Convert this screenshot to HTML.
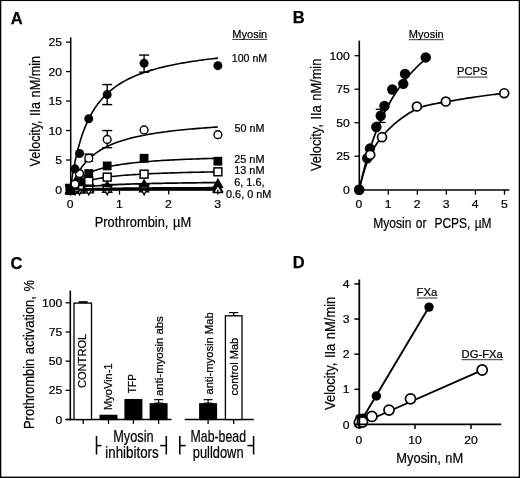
<!DOCTYPE html>
<html><head><meta charset="utf-8"><title>Figure</title>
<style>
html,body{margin:0;padding:0;background:#fff;}
body{width:520px;height:478px;overflow:hidden;position:relative;}
svg{position:absolute;left:0;top:0;display:block;}
svg text{font-family:"Liberation Sans",sans-serif;fill:#000;stroke:#000;stroke-width:0.22px;}
svg text.b{font-weight:bold;stroke-width:0.25px;}
</style></head><body>
<svg width="520" height="478" viewBox="0 0 520 478">
<rect x="0" y="0" width="520" height="478" fill="#fff"/>
<rect x="0" y="0" width="520" height="1.05" fill="#000"/><rect x="0" y="476.6" width="520" height="1.4" fill="#000"/><rect x="0" y="0" width="1.3" height="478" fill="#000"/><rect x="518.7" y="0" width="1.3" height="478" fill="#000"/>
<text transform="translate(10.80,23.60)" font-size="16.5" class="b">A</text>
<text transform="translate(62.00,193.50) scale(1.06,1)" font-size="11.5" text-anchor="end">0</text>
<text transform="translate(62.00,164.02) scale(1.06,1)" font-size="11.5" text-anchor="end">5</text>
<text transform="translate(62.00,134.54) scale(1.06,1)" font-size="11.5" text-anchor="end">10</text>
<text transform="translate(62.00,105.06) scale(1.06,1)" font-size="11.5" text-anchor="end">15</text>
<text transform="translate(62.00,75.58) scale(1.06,1)" font-size="11.5" text-anchor="end">20</text>
<text transform="translate(62.00,46.10) scale(1.06,1)" font-size="11.5" text-anchor="end">25</text>
<text transform="translate(70.10,207.70) scale(1.06,1)" font-size="11.5" text-anchor="middle">0</text>
<text transform="translate(119.30,207.70) scale(1.06,1)" font-size="11.5" text-anchor="middle">1</text>
<text transform="translate(168.50,207.70) scale(1.06,1)" font-size="11.5" text-anchor="middle">2</text>
<text transform="translate(217.70,207.70) scale(1.06,1)" font-size="11.5" text-anchor="middle">3</text>
<text transform="translate(39.80,166.40) rotate(-90) scale(0.8244,1)" font-size="15.3" style="word-spacing:1.2px">Velocity, IIa nM/min</text>
<text transform="translate(94.70,227.20) scale(0.8429,1)" font-size="15.3" style="word-spacing:1.2px">Prothrombin, µM</text>
<polyline points="70.30,189.50 72.76,188.93 75.22,188.43 77.68,187.99 80.14,187.60 82.60,187.25 85.06,186.94 87.52,186.65 89.98,186.39 92.44,186.15 94.90,185.94 97.36,185.74 99.82,185.55 102.28,185.38 104.74,185.23 107.20,185.08 109.66,184.94 112.12,184.81 114.58,184.69 117.04,184.58 119.50,184.47 121.96,184.37 124.42,184.28 126.88,184.19 129.34,184.10 131.80,184.02 134.26,183.94 136.72,183.87 139.18,183.80 141.64,183.73 144.10,183.67 146.56,183.61 149.02,183.55 151.48,183.50 153.94,183.44 156.40,183.39 158.86,183.34 161.32,183.30 163.78,183.25 166.24,183.21 168.70,183.17 171.16,183.13 173.62,183.09 176.08,183.05 178.54,183.01 181.00,182.98 183.46,182.95 185.92,182.91 188.38,182.88 190.84,182.85 193.30,182.82 195.76,182.79 198.22,182.76 200.68,182.74 203.14,182.71 205.60,182.69 208.06,182.66 210.52,182.64 212.98,182.61 215.44,182.59 217.90,182.57" fill="none" stroke="#000" stroke-width="1.7" stroke-linejoin="round"/>
<polyline points="70.30,189.50 72.76,187.62 75.22,186.06 77.68,184.74 80.14,183.60 82.60,182.62 85.06,181.76 87.52,181.00 89.98,180.33 92.44,179.73 94.90,179.18 97.36,178.69 99.82,178.24 102.28,177.84 104.74,177.46 107.20,177.12 109.66,176.80 112.12,176.51 114.58,176.23 117.04,175.98 119.50,175.74 121.96,175.52 124.42,175.31 126.88,175.12 129.34,174.93 131.80,174.76 134.26,174.60 136.72,174.44 139.18,174.29 141.64,174.16 144.10,174.02 146.56,173.90 149.02,173.78 151.48,173.66 153.94,173.55 156.40,173.45 158.86,173.35 161.32,173.25 163.78,173.16 166.24,173.08 168.70,172.99 171.16,172.91 173.62,172.83 176.08,172.76 178.54,172.69 181.00,172.62 183.46,172.55 185.92,172.48 188.38,172.42 190.84,172.36 193.30,172.30 195.76,172.25 198.22,172.19 200.68,172.14 203.14,172.09 205.60,172.04 208.06,171.99 210.52,171.94 212.98,171.90 215.44,171.85 217.90,171.81" fill="none" stroke="#000" stroke-width="1.6" stroke-linejoin="round"/>
<polyline points="70.30,189.50 72.76,185.90 75.22,182.96 77.68,180.51 80.14,178.43 82.60,176.66 85.06,175.11 87.52,173.77 89.98,172.58 92.44,171.52 94.90,170.57 97.36,169.72 99.82,168.95 102.28,168.25 104.74,167.61 107.20,167.02 109.66,166.48 112.12,165.98 114.58,165.52 117.04,165.09 119.50,164.70 121.96,164.32 124.42,163.98 126.88,163.65 129.34,163.34 131.80,163.05 134.26,162.78 136.72,162.53 139.18,162.28 141.64,162.05 144.10,161.83 146.56,161.63 149.02,161.43 151.48,161.24 153.94,161.06 156.40,160.89 158.86,160.73 161.32,160.57 163.78,160.42 166.24,160.28 168.70,160.14 171.16,160.01 173.62,159.88 176.08,159.76 178.54,159.64 181.00,159.53 183.46,159.42 185.92,159.31 188.38,159.21 190.84,159.12 193.30,159.02 195.76,158.93 198.22,158.84 200.68,158.76 203.14,158.67 205.60,158.59 208.06,158.51 210.52,158.44 212.98,158.37 215.44,158.29 217.90,158.23" fill="none" stroke="#000" stroke-width="1.6" stroke-linejoin="round"/>
<polyline points="70.30,189.50 72.76,183.18 75.22,177.86 77.68,173.32 80.14,169.40 82.60,165.98 85.06,162.97 87.52,160.30 89.98,157.92 92.44,155.78 94.90,153.85 97.36,152.10 99.82,150.50 102.28,149.04 104.74,147.69 107.20,146.45 109.66,145.31 112.12,144.24 114.58,143.25 117.04,142.33 119.50,141.47 121.96,140.66 124.42,139.90 126.88,139.19 129.34,138.52 131.80,137.89 134.26,137.29 136.72,136.72 139.18,136.18 141.64,135.67 144.10,135.18 146.56,134.72 149.02,134.28 151.48,133.86 153.94,133.46 156.40,133.07 158.86,132.70 161.32,132.35 163.78,132.01 166.24,131.69 168.70,131.38 171.16,131.08 173.62,130.79 176.08,130.51 178.54,130.25 181.00,129.99 183.46,129.74 185.92,129.50 188.38,129.27 190.84,129.05 193.30,128.83 195.76,128.62 198.22,128.42 200.68,128.22 203.14,128.03 205.60,127.85 208.06,127.67 210.52,127.49 212.98,127.32 215.44,127.16 217.90,127.00" fill="none" stroke="#000" stroke-width="1.6" stroke-linejoin="round"/>
<polyline points="70.30,189.50 72.76,173.57 75.22,160.70 77.68,150.09 80.14,141.19 82.60,133.62 85.06,127.10 87.52,121.43 89.98,116.45 92.44,112.04 94.90,108.11 97.36,104.59 99.82,101.41 102.28,98.53 104.74,95.90 107.20,93.50 109.66,91.30 112.12,89.27 114.58,87.39 117.04,85.65 119.50,84.04 121.96,82.53 124.42,81.12 126.88,79.80 129.34,78.57 131.80,77.41 134.26,76.31 136.72,75.28 139.18,74.30 141.64,73.38 144.10,72.50 146.56,71.67 149.02,70.88 151.48,70.13 153.94,69.41 156.40,68.73 158.86,68.07 161.32,67.45 163.78,66.85 166.24,66.28 168.70,65.73 171.16,65.21 173.62,64.70 176.08,64.22 178.54,63.75 181.00,63.30 183.46,62.87 185.92,62.45 188.38,62.05 190.84,61.66 193.30,61.28 195.76,60.92 198.22,60.57 200.68,60.23 203.14,59.90 205.60,59.58 208.06,59.28 210.52,58.98 212.98,58.69 215.44,58.41 217.90,58.13" fill="none" stroke="#000" stroke-width="1.6" stroke-linejoin="round"/>
<polygon points="70.30,185.40 65.68,193.60 74.92,193.60" fill="#000" stroke="#000" stroke-width="1.3"/>
<polygon points="74.92,184.81 70.30,193.02 79.54,193.02" fill="#000" stroke="#000" stroke-width="1.3"/>
<polygon points="79.53,184.22 74.91,192.43 84.15,192.43" fill="#000" stroke="#000" stroke-width="1.3"/>
<polygon points="88.75,183.04 84.13,191.25 93.37,191.25" fill="#000" stroke="#000" stroke-width="1.3"/>
<polygon points="107.20,181.27 102.58,189.48 111.82,189.48" fill="#000" stroke="#000" stroke-width="1.3"/>
<polygon points="144.10,179.79 139.48,188.00 148.72,188.00" fill="#000" stroke="#000" stroke-width="1.3"/>
<polygon points="217.90,179.20 213.28,187.41 222.52,187.41" fill="#000" stroke="#000" stroke-width="1.3"/>
<polygon points="70.30,185.46 65.74,193.54 74.86,193.54" fill="#fff" stroke="#000" stroke-width="1.4"/>
<polygon points="74.92,185.17 70.36,193.25 79.48,193.25" fill="#fff" stroke="#000" stroke-width="1.4"/>
<polygon points="79.53,184.99 74.97,193.07 84.09,193.07" fill="#fff" stroke="#000" stroke-width="1.4"/>
<polygon points="88.75,184.75 84.19,192.83 93.31,192.83" fill="#fff" stroke="#000" stroke-width="1.4"/>
<polygon points="107.20,184.28 102.64,192.36 111.76,192.36" fill="#fff" stroke="#000" stroke-width="1.4"/>
<polygon points="144.10,183.81 139.54,191.89 148.66,191.89" fill="#fff" stroke="#000" stroke-width="1.4"/>
<polygon points="217.90,183.51 213.34,191.59 222.46,191.59" fill="#fff" stroke="#000" stroke-width="1.4"/>
<polygon points="70.30,192.72 65.68,184.51 74.92,184.51" fill="#000" stroke="#000" stroke-width="1.3"/>
<polygon points="74.92,192.72 70.30,184.51 79.54,184.51" fill="#000" stroke="#000" stroke-width="1.3"/>
<polygon points="79.53,192.72 74.91,184.51 84.15,184.51" fill="#000" stroke="#000" stroke-width="1.3"/>
<polygon points="88.75,192.72 84.13,184.51 93.37,184.51" fill="#000" stroke="#000" stroke-width="1.3"/>
<polygon points="107.20,192.72 102.58,184.51 111.82,184.51" fill="#000" stroke="#000" stroke-width="1.3"/>
<polygon points="144.10,192.72 139.48,184.51 148.72,184.51" fill="#000" stroke="#000" stroke-width="1.3"/>
<polygon points="70.30,194.74 65.74,186.26 74.86,186.26" fill="#fff" stroke="#000" stroke-width="1.4"/>
<polygon points="74.92,194.74 70.36,186.26 79.48,186.26" fill="#fff" stroke="#000" stroke-width="1.4"/>
<polygon points="79.53,194.74 74.97,186.26 84.09,186.26" fill="#fff" stroke="#000" stroke-width="1.4"/>
<polygon points="88.75,194.74 84.19,186.26 93.31,186.26" fill="#fff" stroke="#000" stroke-width="1.4"/>
<polygon points="107.20,194.74 102.64,186.26 111.76,186.26" fill="#fff" stroke="#000" stroke-width="1.4"/>
<polygon points="144.10,194.74 139.54,186.26 148.66,186.26" fill="#fff" stroke="#000" stroke-width="1.4"/>
<polyline points="70.30,189.50 72.76,189.35 75.22,189.22 77.68,189.11 80.14,189.00 82.60,188.91 85.06,188.82 87.52,188.75 89.98,188.67 92.44,188.61 94.90,188.55 97.36,188.49 99.82,188.44 102.28,188.39 104.74,188.34 107.20,188.30 109.66,188.26 112.12,188.22 114.58,188.19 117.04,188.16 119.50,188.12 121.96,188.09 124.42,188.07 126.88,188.04 129.34,188.01 131.80,187.99 134.26,187.97 136.72,187.95 139.18,187.92 141.64,187.90 144.10,187.89 146.56,187.87 149.02,187.85 151.48,187.83 153.94,187.82 156.40,187.80 158.86,187.79 161.32,187.77 163.78,187.76 166.24,187.74 168.70,187.73 171.16,187.72 173.62,187.71 176.08,187.70 178.54,187.68 181.00,187.67 183.46,187.66 185.92,187.65 188.38,187.64 190.84,187.63 193.30,187.62 195.76,187.62 198.22,187.61 200.68,187.60 203.14,187.59 205.60,187.58 208.06,187.57 210.52,187.57 212.98,187.56 215.44,187.55 217.90,187.55" fill="none" stroke="#000" stroke-width="1.4" stroke-linejoin="round"/>
<polyline points="70.30,189.50 72.76,189.37 75.22,189.26 77.68,189.19 80.14,189.12 82.60,189.07 85.06,189.03 87.52,188.99 89.98,188.96 92.44,188.93 94.90,188.91 97.36,188.89 99.82,188.87 102.28,188.85 104.74,188.84 107.20,188.83 109.66,188.81 112.12,188.80 114.58,188.79 117.04,188.78 119.50,188.77 121.96,188.77 124.42,188.76 126.88,188.75 129.34,188.75 131.80,188.74 134.26,188.73 136.72,188.73 139.18,188.72 141.64,188.72 144.10,188.71 146.56,188.71 149.02,188.71 151.48,188.70 153.94,188.70 156.40,188.69 158.86,188.69 161.32,188.69 163.78,188.69 166.24,188.68 168.70,188.68 171.16,188.68 173.62,188.67 176.08,188.67 178.54,188.67 181.00,188.67 183.46,188.67 185.92,188.66 188.38,188.66 190.84,188.66 193.30,188.66 195.76,188.66 198.22,188.65 200.68,188.65 203.14,188.65 205.60,188.65 208.06,188.65 210.52,188.65 212.98,188.65 215.44,188.64 217.90,188.64" fill="none" stroke="#000" stroke-width="1.4" stroke-linejoin="round"/>
<polyline points="70.30,190.09 217.90,190.09" fill="none" stroke="#000" stroke-width="1.4" stroke-linejoin="round"/>
<line x1="66.00" y1="189.50" x2="218.60" y2="189.50" stroke="#000" stroke-width="1.5"/>
<polygon points="217.90,185.12 213.60,192.47 222.20,192.47" fill="#fff" stroke="#000" stroke-width="1.5"/>
<rect x="66.35" y="186.14" width="7.9" height="7.9" fill="#fff" stroke="#000" stroke-width="1.5"/>
<rect x="70.97" y="183.78" width="7.9" height="7.9" fill="#fff" stroke="#000" stroke-width="1.5"/>
<rect x="75.58" y="181.42" width="7.9" height="7.9" fill="#fff" stroke="#000" stroke-width="1.5"/>
<rect x="84.80" y="177.30" width="7.9" height="7.9" fill="#fff" stroke="#000" stroke-width="1.5"/>
<rect x="103.25" y="173.17" width="7.9" height="7.9" fill="#fff" stroke="#000" stroke-width="1.5"/>
<rect x="140.15" y="170.22" width="7.9" height="7.9" fill="#fff" stroke="#000" stroke-width="1.5"/>
<rect x="213.95" y="167.86" width="7.9" height="7.9" fill="#fff" stroke="#000" stroke-width="1.5"/>
<rect x="65.90" y="185.69" width="8.8" height="8.8" fill="#000"/>
<rect x="70.52" y="181.56" width="8.8" height="8.8" fill="#000"/>
<rect x="75.12" y="177.44" width="8.8" height="8.8" fill="#000"/>
<rect x="84.35" y="169.18" width="8.8" height="8.8" fill="#000"/>
<rect x="102.80" y="161.52" width="8.8" height="8.8" fill="#000"/>
<rect x="139.70" y="153.85" width="8.8" height="8.8" fill="#000"/>
<rect x="213.50" y="156.80" width="8.8" height="8.8" fill="#000"/>
<line x1="107.20" y1="84.55" x2="107.20" y2="104.60" stroke="#000" stroke-width="1.4"/>
<line x1="102.20" y1="84.55" x2="112.20" y2="84.55" stroke="#000" stroke-width="1.4"/>
<line x1="102.20" y1="104.60" x2="112.20" y2="104.60" stroke="#000" stroke-width="1.4"/>
<line x1="144.10" y1="55.07" x2="144.10" y2="72.17" stroke="#000" stroke-width="1.4"/>
<line x1="139.10" y1="55.07" x2="149.10" y2="55.07" stroke="#000" stroke-width="1.4"/>
<line x1="139.10" y1="72.17" x2="149.10" y2="72.17" stroke="#000" stroke-width="1.4"/>
<line x1="107.20" y1="130.54" x2="107.20" y2="147.64" stroke="#000" stroke-width="1.4"/>
<line x1="102.20" y1="130.54" x2="112.20" y2="130.54" stroke="#000" stroke-width="1.4"/>
<line x1="102.20" y1="147.64" x2="112.20" y2="147.64" stroke="#000" stroke-width="1.4"/>
<line x1="88.75" y1="154.12" x2="88.75" y2="161.20" stroke="#000" stroke-width="1.4"/>
<line x1="84.25" y1="154.12" x2="93.25" y2="154.12" stroke="#000" stroke-width="1.4"/>
<line x1="84.25" y1="161.20" x2="93.25" y2="161.20" stroke="#000" stroke-width="1.4"/>
<circle cx="70.30" cy="190.09" r="3.9" fill="#fff" stroke="#000" stroke-width="1.4"/>
<circle cx="74.92" cy="184.19" r="3.9" fill="#fff" stroke="#000" stroke-width="1.4"/>
<circle cx="79.53" cy="173.58" r="3.9" fill="#fff" stroke="#000" stroke-width="1.4"/>
<circle cx="88.75" cy="158.25" r="3.9" fill="#fff" stroke="#000" stroke-width="1.4"/>
<circle cx="107.20" cy="139.38" r="3.9" fill="#fff" stroke="#000" stroke-width="1.4"/>
<circle cx="144.10" cy="129.95" r="3.9" fill="#fff" stroke="#000" stroke-width="1.4"/>
<circle cx="217.90" cy="134.67" r="3.9" fill="#fff" stroke="#000" stroke-width="1.4"/>
<circle cx="70.30" cy="190.09" r="4.5" fill="#000"/>
<circle cx="74.92" cy="168.86" r="4.5" fill="#000"/>
<circle cx="79.53" cy="153.53" r="4.5" fill="#000"/>
<circle cx="88.75" cy="118.75" r="4.5" fill="#000"/>
<circle cx="107.20" cy="94.57" r="4.5" fill="#000"/>
<circle cx="144.10" cy="63.33" r="4.5" fill="#000"/>
<circle cx="217.90" cy="65.68" r="4.5" fill="#000"/>
<line x1="70.70" y1="37.30" x2="70.70" y2="190.20" stroke="#000" stroke-width="1.5"/>
<line x1="66.00" y1="189.50" x2="70.60" y2="189.50" stroke="#000" stroke-width="1.3"/>
<line x1="66.00" y1="160.02" x2="70.60" y2="160.02" stroke="#000" stroke-width="1.3"/>
<line x1="66.00" y1="130.54" x2="70.60" y2="130.54" stroke="#000" stroke-width="1.3"/>
<line x1="66.00" y1="101.06" x2="70.60" y2="101.06" stroke="#000" stroke-width="1.3"/>
<line x1="66.00" y1="71.58" x2="70.60" y2="71.58" stroke="#000" stroke-width="1.3"/>
<line x1="66.00" y1="42.10" x2="70.60" y2="42.10" stroke="#000" stroke-width="1.3"/>
<line x1="70.30" y1="189.50" x2="70.30" y2="194.60" stroke="#000" stroke-width="1.3"/>
<line x1="119.50" y1="189.50" x2="119.50" y2="194.60" stroke="#000" stroke-width="1.3"/>
<line x1="168.70" y1="189.50" x2="168.70" y2="194.60" stroke="#000" stroke-width="1.3"/>
<line x1="217.90" y1="189.50" x2="217.90" y2="194.60" stroke="#000" stroke-width="1.3"/>
<text transform="translate(232.30,37.70) scale(1.0231,1)" font-size="10.8">Myosin</text>
<line x1="232.30" y1="39.40" x2="267.30" y2="39.40" stroke="#000" stroke-width="0.8"/>
<text transform="translate(231.80,61.70) scale(0.9827,1)" font-size="10.8">100 nM</text>
<text transform="translate(234.60,131.80) scale(0.9961,1)" font-size="10.8">50 nM</text>
<text transform="translate(234.20,162.60) scale(1.0094,1)" font-size="10.8">25 nM</text>
<text transform="translate(234.20,174.10) scale(1.0094,1)" font-size="10.8">13 nM</text>
<text transform="translate(234.20,185.70) scale(1.0093,1)" font-size="10.8">6, 1.6,</text>
<text transform="translate(226.05,197.90) scale(1.0083,1)" font-size="10.8">0.6, 0 nM</text>
<text transform="translate(292.80,23.10)" font-size="16.5" class="b">B</text>
<text transform="translate(349.80,193.70) scale(1.06,1)" font-size="11.5" text-anchor="end">0</text>
<text transform="translate(349.80,160.20) scale(1.06,1)" font-size="11.5" text-anchor="end">25</text>
<text transform="translate(349.80,126.70) scale(1.06,1)" font-size="11.5" text-anchor="end">50</text>
<text transform="translate(349.80,93.20) scale(1.06,1)" font-size="11.5" text-anchor="end">75</text>
<text transform="translate(349.80,59.70) scale(1.06,1)" font-size="11.5" text-anchor="end">100</text>
<text transform="translate(359.00,207.70) scale(1.06,1)" font-size="11.5" text-anchor="middle">0</text>
<text transform="translate(388.06,207.70) scale(1.06,1)" font-size="11.5" text-anchor="middle">1</text>
<text transform="translate(417.12,207.70) scale(1.06,1)" font-size="11.5" text-anchor="middle">2</text>
<text transform="translate(446.18,207.70) scale(1.06,1)" font-size="11.5" text-anchor="middle">3</text>
<text transform="translate(475.24,207.70) scale(1.06,1)" font-size="11.5" text-anchor="middle">4</text>
<text transform="translate(504.30,207.70) scale(1.06,1)" font-size="11.5" text-anchor="middle">5</text>
<text transform="translate(321.00,171.00) rotate(-90) scale(0.8401,1)" font-size="15.3" style="word-spacing:1.2px">Velocity, IIa nM/min</text>
<text transform="translate(373.20,227.60) scale(0.7894,1)" font-size="15.3" style="word-spacing:1.2px">Myosin or</text>
<text transform="translate(434.40,227.60) scale(0.7843,1)" font-size="15.3" style="word-spacing:1.2px">PCPS, µM</text>
<polyline points="359.20,189.70 361.04,182.14 362.88,175.26 364.72,169.16 366.56,163.77 368.40,158.96 370.24,154.87 372.07,151.37 373.91,148.17 375.75,145.23 377.59,142.51 379.43,139.97 381.27,137.57 383.11,135.30 384.95,133.20 386.79,131.24 388.63,129.39 390.47,127.60 392.31,125.88 394.15,124.24 395.98,122.67 397.82,121.16 399.66,119.72 401.50,118.34 403.34,117.01 405.18,115.74 407.02,114.51 408.86,113.34 410.70,112.22 412.54,111.15 414.38,110.10 416.22,109.13 418.06,108.33 419.89,107.61 421.73,106.95 423.57,106.37 425.41,105.84 427.25,105.38 429.09,104.96 430.93,104.57 432.77,104.20 434.61,103.86 436.45,103.53 438.29,103.21 440.13,102.90 441.97,102.59 443.81,102.28 445.64,101.96 447.48,101.63 449.32,101.30 451.16,100.97 453.00,100.65 454.84,100.33 456.68,100.01 458.52,99.69 460.36,99.37 462.20,99.06 464.04,98.76 465.88,98.45 467.72,98.16 469.55,97.86 471.39,97.58 473.23,97.30 475.07,97.03 476.91,96.76 478.75,96.50 480.59,96.24 482.43,95.98 484.27,95.73 486.11,95.48 487.95,95.23 489.79,94.99 491.63,94.75 493.46,94.52 495.30,94.29 497.14,94.07 498.98,93.85 500.82,93.64 502.66,93.43 504.50,93.22" fill="none" stroke="#000" stroke-width="1.7" stroke-linejoin="round"/>
<polyline points="359.20,189.70 360.31,184.70 361.42,179.91 362.53,175.33 363.64,170.93 364.75,166.71 365.85,162.66 366.96,158.76 368.07,155.02 369.18,151.41 370.29,147.93 371.40,144.58 372.51,141.35 373.62,138.23 374.73,135.22 375.84,132.31 376.95,129.50 378.06,126.77 379.16,124.14 380.27,121.58 381.38,119.11 382.49,116.71 383.60,114.38 384.71,112.13 385.82,109.94 386.93,107.81 388.04,105.74 389.15,103.73 390.26,101.77 391.36,99.87 392.47,98.02 393.58,96.22 394.69,94.46 395.80,92.75 396.91,91.09 398.02,89.46 399.13,87.88 400.24,86.33 401.35,84.83 402.46,83.36 403.56,81.92 404.67,80.52 405.78,79.14 406.89,77.81 408.00,76.50 409.11,75.22 410.22,73.97 411.33,72.74 412.44,71.54 413.55,70.37 414.66,69.22 415.77,68.10 416.87,67.00 417.98,65.92 419.09,64.87 420.20,63.83 421.31,62.82 422.42,61.83 423.53,60.85 424.64,59.90 425.75,58.96" fill="none" stroke="#000" stroke-width="1.7" stroke-linejoin="round"/>
<line x1="380.70" y1="109.30" x2="380.70" y2="122.43" stroke="#000" stroke-width="1.3"/>
<line x1="375.70" y1="109.30" x2="385.70" y2="109.30" stroke="#000" stroke-width="1.3"/>
<line x1="375.70" y1="122.43" x2="385.70" y2="122.43" stroke="#000" stroke-width="1.3"/>
<circle cx="359.20" cy="189.70" r="5.2" fill="#000"/>
<circle cx="367.19" cy="158.21" r="5.2" fill="#000"/>
<circle cx="369.89" cy="148.56" r="5.2" fill="#000"/>
<circle cx="376.35" cy="126.99" r="5.2" fill="#000"/>
<circle cx="380.70" cy="115.73" r="5.2" fill="#000"/>
<circle cx="384.48" cy="105.95" r="5.2" fill="#000"/>
<circle cx="392.33" cy="89.47" r="5.2" fill="#000"/>
<circle cx="403.28" cy="83.84" r="5.2" fill="#000"/>
<circle cx="405.00" cy="73.92" r="5.2" fill="#000"/>
<circle cx="425.75" cy="57.44" r="5.2" fill="#000"/>
<circle cx="370.24" cy="154.86" r="4.45" fill="#fff" stroke="#000" stroke-width="1.7"/>
<circle cx="382.01" cy="137.17" r="4.45" fill="#fff" stroke="#000" stroke-width="1.7"/>
<circle cx="416.88" cy="106.49" r="4.45" fill="#fff" stroke="#000" stroke-width="1.7"/>
<circle cx="445.80" cy="101.53" r="4.45" fill="#fff" stroke="#000" stroke-width="1.7"/>
<circle cx="504.21" cy="93.22" r="4.45" fill="#fff" stroke="#000" stroke-width="1.7"/>
<line x1="359.30" y1="40.60" x2="359.30" y2="190.75" stroke="#000" stroke-width="1.6"/>
<line x1="354.50" y1="190.00" x2="509.40" y2="190.00" stroke="#000" stroke-width="1.6"/>
<line x1="354.50" y1="189.70" x2="359.30" y2="189.70" stroke="#000" stroke-width="1.3"/>
<line x1="354.50" y1="156.20" x2="359.30" y2="156.20" stroke="#000" stroke-width="1.3"/>
<line x1="354.50" y1="122.70" x2="359.30" y2="122.70" stroke="#000" stroke-width="1.3"/>
<line x1="354.50" y1="89.20" x2="359.30" y2="89.20" stroke="#000" stroke-width="1.3"/>
<line x1="354.50" y1="55.70" x2="359.30" y2="55.70" stroke="#000" stroke-width="1.3"/>
<line x1="359.20" y1="190.00" x2="359.20" y2="194.70" stroke="#000" stroke-width="1.3"/>
<line x1="388.26" y1="190.00" x2="388.26" y2="194.70" stroke="#000" stroke-width="1.3"/>
<line x1="417.32" y1="190.00" x2="417.32" y2="194.70" stroke="#000" stroke-width="1.3"/>
<line x1="446.38" y1="190.00" x2="446.38" y2="194.70" stroke="#000" stroke-width="1.3"/>
<line x1="475.44" y1="190.00" x2="475.44" y2="194.70" stroke="#000" stroke-width="1.3"/>
<line x1="504.50" y1="190.00" x2="504.50" y2="194.70" stroke="#000" stroke-width="1.3"/>
<circle cx="359.20" cy="189.70" r="5.2" fill="#000"/>
<text transform="translate(408.80,38.00) scale(1.0231,1)" font-size="10.8">Myosin</text>
<line x1="408.80" y1="39.70" x2="443.80" y2="39.70" stroke="#000" stroke-width="0.8"/>
<text transform="translate(457.00,75.40) scale(1.037,1)" font-size="10.8">PCPS</text>
<line x1="457.00" y1="77.10" x2="487.50" y2="77.10" stroke="#000" stroke-width="0.8"/>
<text transform="translate(10.60,269.00)" font-size="16.5" class="b">C</text>
<line x1="70.30" y1="290.60" x2="70.30" y2="420.40" stroke="#000" stroke-width="1.6"/>
<line x1="65.60" y1="419.60" x2="171.50" y2="419.60" stroke="#000" stroke-width="1.5"/>
<line x1="184.80" y1="419.60" x2="253.80" y2="419.60" stroke="#000" stroke-width="1.5"/>
<line x1="65.60" y1="419.50" x2="70.30" y2="419.50" stroke="#000" stroke-width="1.3"/>
<text transform="translate(62.40,423.50) scale(1.06,1)" font-size="11.5" text-anchor="end">0</text>
<line x1="65.60" y1="390.32" x2="70.30" y2="390.32" stroke="#000" stroke-width="1.3"/>
<text transform="translate(62.40,394.32) scale(1.06,1)" font-size="11.5" text-anchor="end">25</text>
<line x1="65.60" y1="361.15" x2="70.30" y2="361.15" stroke="#000" stroke-width="1.3"/>
<text transform="translate(62.40,365.15) scale(1.06,1)" font-size="11.5" text-anchor="end">50</text>
<line x1="65.60" y1="331.98" x2="70.30" y2="331.98" stroke="#000" stroke-width="1.3"/>
<text transform="translate(62.40,335.98) scale(1.06,1)" font-size="11.5" text-anchor="end">75</text>
<line x1="65.60" y1="302.80" x2="70.30" y2="302.80" stroke="#000" stroke-width="1.3"/>
<text transform="translate(62.40,306.80) scale(1.06,1)" font-size="11.5" text-anchor="end">100</text>
<text transform="translate(34.00,429.00) rotate(-90) scale(0.8431,1)" font-size="15.3" style="word-spacing:1.2px">Prothrombin activation, %</text>
<line x1="83.20" y1="419.50" x2="83.20" y2="423.90" stroke="#000" stroke-width="1.3"/>
<line x1="108.50" y1="419.50" x2="108.50" y2="423.90" stroke="#000" stroke-width="1.3"/>
<line x1="133.40" y1="419.50" x2="133.40" y2="423.90" stroke="#000" stroke-width="1.3"/>
<line x1="158.60" y1="419.50" x2="158.60" y2="423.90" stroke="#000" stroke-width="1.3"/>
<line x1="208.10" y1="419.50" x2="208.10" y2="423.90" stroke="#000" stroke-width="1.3"/>
<line x1="233.70" y1="419.50" x2="233.70" y2="423.90" stroke="#000" stroke-width="1.3"/>
<line x1="83.20" y1="301.75" x2="83.20" y2="302.80" stroke="#000" stroke-width="1.2"/>
<line x1="78.70" y1="301.75" x2="87.70" y2="301.75" stroke="#000" stroke-width="1.2"/>
<line x1="78.70" y1="302.80" x2="87.70" y2="302.80" stroke="#000" stroke-width="1.2"/>
<line x1="158.60" y1="399.66" x2="158.60" y2="403.16" stroke="#000" stroke-width="1.2"/>
<line x1="154.10" y1="399.66" x2="163.10" y2="399.66" stroke="#000" stroke-width="1.2"/>
<line x1="154.10" y1="403.16" x2="163.10" y2="403.16" stroke="#000" stroke-width="1.2"/>
<line x1="208.10" y1="399.66" x2="208.10" y2="403.16" stroke="#000" stroke-width="1.2"/>
<line x1="203.60" y1="399.66" x2="212.60" y2="399.66" stroke="#000" stroke-width="1.2"/>
<line x1="203.60" y1="403.16" x2="212.60" y2="403.16" stroke="#000" stroke-width="1.2"/>
<line x1="233.70" y1="312.60" x2="233.70" y2="315.64" stroke="#000" stroke-width="1.2"/>
<line x1="229.10" y1="312.60" x2="238.30" y2="312.60" stroke="#000" stroke-width="1.2"/>
<line x1="229.10" y1="315.64" x2="238.30" y2="315.64" stroke="#000" stroke-width="1.2"/>
<rect x="74.00" y="303.10" width="17.50" height="116.40" fill="#fff" stroke="#000" stroke-width="1.3"/>
<rect x="99.50" y="414.72" width="18.00" height="5.38" fill="#000"/>
<rect x="124.40" y="398.96" width="18.00" height="21.14" fill="#000"/>
<rect x="149.60" y="403.16" width="18.00" height="16.94" fill="#000"/>
<rect x="199.10" y="403.16" width="18.00" height="16.94" fill="#000"/>
<rect x="225.40" y="315.82" width="16.60" height="103.68" fill="#fff" stroke="#000" stroke-width="1.3"/>
<text transform="translate(85.60,388.10) rotate(-90) scale(1.1127,1)" font-size="10">CONTROL</text>
<text transform="translate(112.00,410.00) rotate(-90) scale(1.0165,1)" font-size="10.9">MyoVin-1</text>
<text transform="translate(136.40,393.20) rotate(-90) scale(0.9326,1)" font-size="10.9">TFP</text>
<text transform="translate(163.00,396.00) rotate(-90) scale(1.0467,1)" font-size="10.9">anti-myosin abs</text>
<text transform="translate(212.50,394.60) rotate(-90) scale(1.0305,1)" font-size="10.9">anti-myosin Mab</text>
<text transform="translate(237.50,395.40) rotate(-90) scale(1.0114,1)" font-size="10.9">control Mab</text>
<text transform="translate(113.20,441.50) scale(0.7971,1)" font-size="16">Myosin</text>
<text transform="translate(105.30,458.00) scale(0.8339,1)" font-size="16">inhibitors</text>
<text transform="translate(190.60,441.50) scale(0.7689,1)" font-size="16">Mab-bead</text>
<text transform="translate(192.80,458.00) scale(0.8043,1)" font-size="16">pulldown</text>
<line x1="96.50" y1="436.00" x2="96.50" y2="454.50" stroke="#000" stroke-width="1.55"/>
<line x1="96.50" y1="445.60" x2="101.50" y2="445.60" stroke="#000" stroke-width="1.55"/>
<line x1="166.30" y1="436.00" x2="166.30" y2="454.50" stroke="#000" stroke-width="1.55"/>
<line x1="166.30" y1="445.60" x2="160.20" y2="445.60" stroke="#000" stroke-width="1.55"/>
<line x1="179.80" y1="436.00" x2="179.80" y2="454.50" stroke="#000" stroke-width="1.55"/>
<line x1="179.80" y1="445.60" x2="185.70" y2="445.60" stroke="#000" stroke-width="1.55"/>
<line x1="253.60" y1="436.00" x2="253.60" y2="454.50" stroke="#000" stroke-width="1.55"/>
<line x1="253.60" y1="445.60" x2="247.40" y2="445.60" stroke="#000" stroke-width="1.55"/>
<text transform="translate(292.80,268.30)" font-size="16.5" class="b">D</text>
<text transform="translate(349.60,428.50) scale(1.06,1)" font-size="11.5" text-anchor="end">0</text>
<text transform="translate(349.60,393.35) scale(1.06,1)" font-size="11.5" text-anchor="end">1</text>
<text transform="translate(349.60,358.20) scale(1.06,1)" font-size="11.5" text-anchor="end">2</text>
<text transform="translate(349.60,323.05) scale(1.06,1)" font-size="11.5" text-anchor="end">3</text>
<text transform="translate(349.60,287.90) scale(1.06,1)" font-size="11.5" text-anchor="end">4</text>
<text transform="translate(359.00,443.60) scale(1.06,1)" font-size="11.5" text-anchor="middle">0</text>
<text transform="translate(415.00,443.60) scale(1.06,1)" font-size="11.5" text-anchor="middle">10</text>
<text transform="translate(471.00,443.60) scale(1.06,1)" font-size="11.5" text-anchor="middle">20</text>
<text transform="translate(334.90,409.90) rotate(-90) scale(0.8453,1)" font-size="15.3" style="word-spacing:1.2px">Velocity, IIa nM/min</text>
<text transform="translate(396.30,462.90) scale(0.8436,1)" font-size="15.3" style="word-spacing:1.2px">Myosin, nM</text>
<polyline points="359.00,424.50 429.00,307.10" fill="none" stroke="#000" stroke-width="1.9" stroke-linejoin="round"/>
<polyline points="359.00,424.50 482.20,370.02" fill="none" stroke="#000" stroke-width="1.9" stroke-linejoin="round"/>
<circle cx="359.60" cy="418.40" r="4.6" fill="#000"/>
<circle cx="363.30" cy="418.00" r="4.6" fill="#000"/>
<circle cx="376.36" cy="396.03" r="4.7" fill="#000"/>
<circle cx="429.00" cy="307.10" r="4.7" fill="#000"/>
<circle cx="359.28" cy="422.74" r="5.05" fill="#fff" stroke="#000" stroke-width="1.7"/>
<circle cx="362.47" cy="422.04" r="5.05" fill="#fff" stroke="#000" stroke-width="1.7"/>
<circle cx="371.88" cy="416.42" r="5.05" fill="#fff" stroke="#000" stroke-width="1.7"/>
<circle cx="389.02" cy="410.09" r="5.05" fill="#fff" stroke="#000" stroke-width="1.7"/>
<circle cx="410.52" cy="398.84" r="5.05" fill="#fff" stroke="#000" stroke-width="1.7"/>
<circle cx="482.20" cy="370.02" r="5.05" fill="#fff" stroke="#000" stroke-width="1.7"/>
<line x1="359.30" y1="279.50" x2="359.30" y2="425.20" stroke="#000" stroke-width="1.8"/>
<line x1="354.40" y1="424.30" x2="501.20" y2="424.30" stroke="#000" stroke-width="1.8"/>
<line x1="354.40" y1="424.50" x2="359.30" y2="424.50" stroke="#000" stroke-width="1.5"/>
<line x1="354.40" y1="389.35" x2="359.30" y2="389.35" stroke="#000" stroke-width="1.5"/>
<line x1="354.40" y1="354.20" x2="359.30" y2="354.20" stroke="#000" stroke-width="1.5"/>
<line x1="354.40" y1="319.05" x2="359.30" y2="319.05" stroke="#000" stroke-width="1.5"/>
<line x1="354.40" y1="283.90" x2="359.30" y2="283.90" stroke="#000" stroke-width="1.5"/>
<line x1="359.30" y1="424.30" x2="359.30" y2="429.00" stroke="#000" stroke-width="1.5"/>
<line x1="415.00" y1="424.30" x2="415.00" y2="429.00" stroke="#000" stroke-width="1.5"/>
<line x1="471.00" y1="424.30" x2="471.00" y2="429.00" stroke="#000" stroke-width="1.5"/>
<text transform="translate(416.60,296.30) scale(1.0501,1)" font-size="10.8">FXa</text>
<line x1="416.60" y1="298.00" x2="437.40" y2="298.00" stroke="#000" stroke-width="0.8"/>
<text transform="translate(461.50,358.00) scale(1.0453,1)" font-size="10.8">DG-FXa</text>
<line x1="461.50" y1="359.70" x2="502.90" y2="359.70" stroke="#000" stroke-width="0.8"/>
</svg>
</body></html>
